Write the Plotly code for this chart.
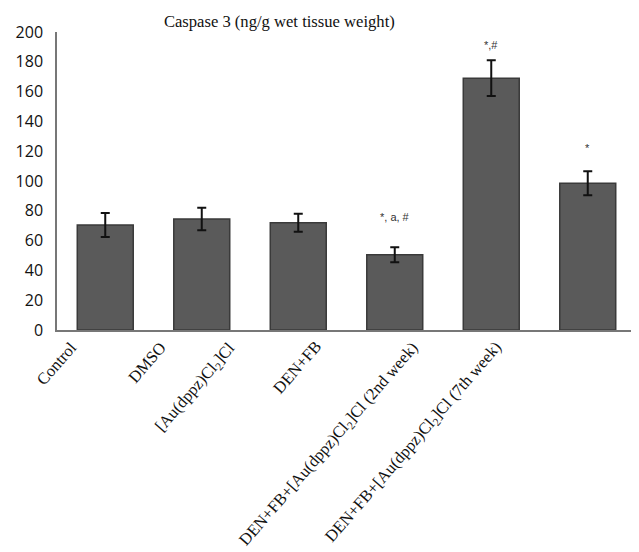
import plotly.graph_objects as go

categories = ["Control", "DMSO", "[Au(dppz)Cl<sub>2</sub>]Cl", "DEN+FB",
              "DEN+FB+[Au(dppz)Cl<sub>2</sub>]Cl (2nd week)",
              "DEN+FB+[Au(dppz)Cl<sub>2</sub>]Cl (7th week)"]
values = [70.5, 74.5, 72, 50.5, 169, 98.5]
errors = [8, 7.5, 6, 5, 12, 8]
sig_labels = ["", "", "", "*, a, #", "*,#", "*"]
sig_y = [None, None, None, 76, 191, 122]
tick_vals = [0, 20, 40, 60, 80, 100, 120, 140, 160, 180, 200]
label_xshift = [-22, -29, -56, -67, -66, -79]

fig = go.Figure()
fig.add_trace(go.Bar(
    x=categories, y=values,
    marker=dict(color="#5a5a5a", line=dict(color="#3a3a3a", width=1.5)),
    width=0.58,
    error_y=dict(type="data", array=errors, color="#111111", thickness=2, width=4.5),
))

for c, lab, yv in zip(categories, sig_labels, sig_y):
    if lab:
        fig.add_annotation(x=c, y=yv, text=lab, showarrow=False,
                           font=dict(family="Liberation Sans", size=11, color="#333333"))

for c, dx in zip(categories, label_xshift):
    fig.add_annotation(x=c, y=0, text=c, showarrow=False, textangle=-49,
                       xanchor="right", yanchor="top", xshift=dx, yshift=-5,
                       font=dict(family="Liberation Serif", size=16.5, color="#111111"))

fig.update_layout(
    width=631, height=544,
    margin=dict(l=49, r=3, t=24, b=222),
    plot_bgcolor="white", paper_bgcolor="white",
    showlegend=False,
    title=dict(text="Caspase 3 (ng/g wet tissue weight)", x=0.43, xanchor="center",
               y=0.975, yanchor="middle",
               font=dict(family="Liberation Serif", size=16.6, color="#111111")),
)
fig.update_xaxes(showline=True, linecolor="#777777", linewidth=1.5, showticklabels=False,
                 ticks="", showgrid=False, automargin=False, range=[-0.5, 5.5])
fig.update_yaxes(range=[0, 200], tickvals=tick_vals, showline=True, linecolor="#777777",
                 linewidth=1.5, showgrid=False, ticks="", zeroline=False, automargin=False,
                 ticklabelstandoff=9,
                 tickfont=dict(family="Open Sans", size=16, color="#111111"))

fig.write_html("out.html")
